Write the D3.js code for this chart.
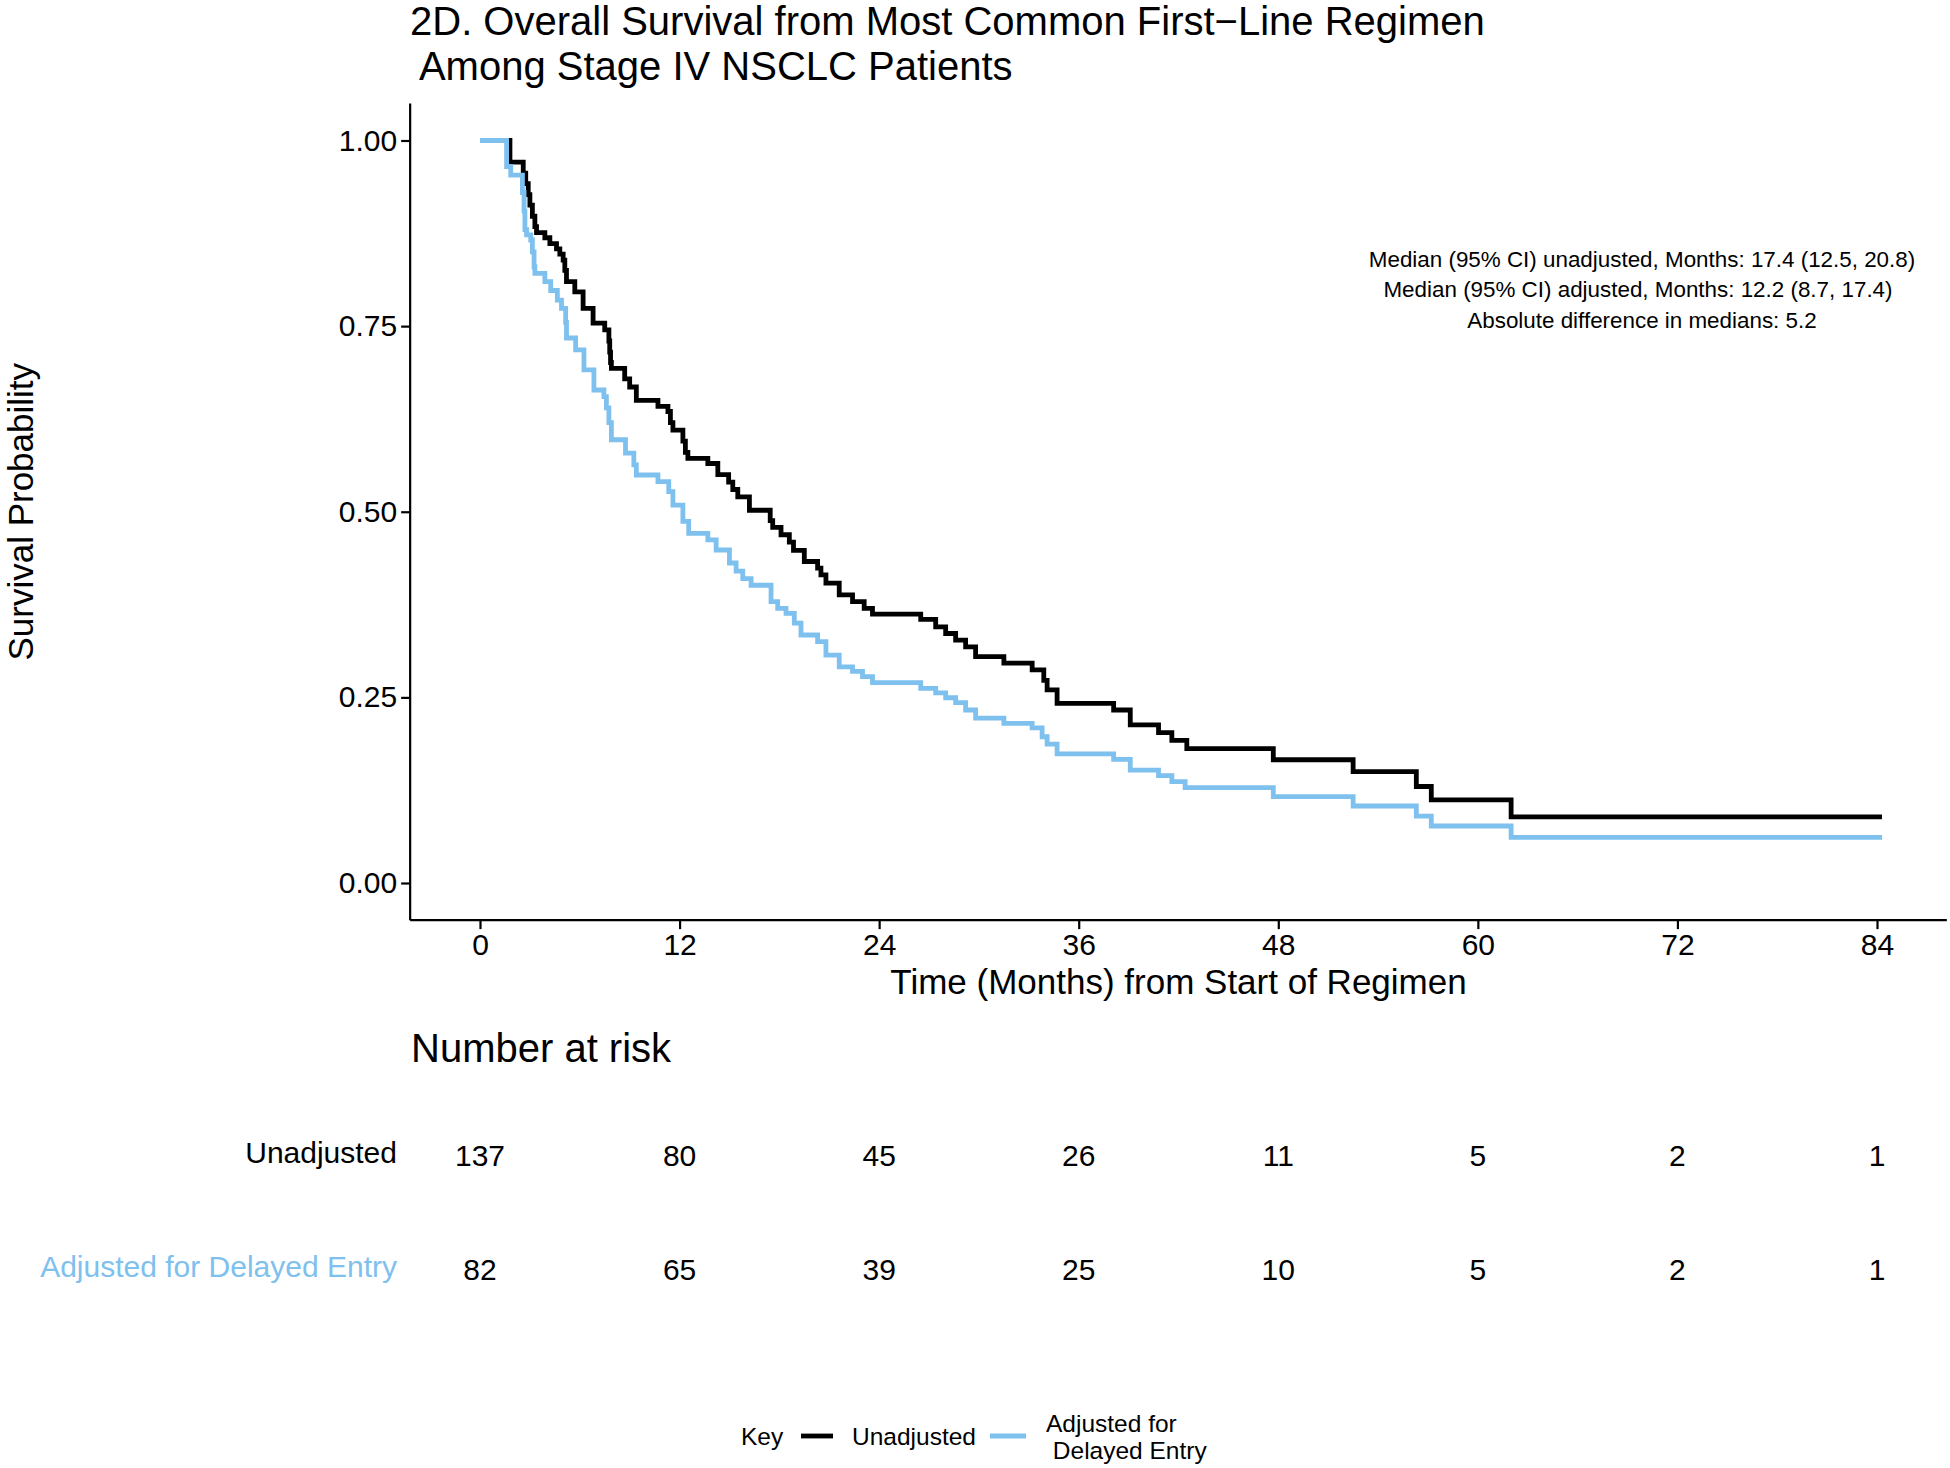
<!DOCTYPE html>
<html>
<head>
<meta charset="utf-8">
<script src="https://cdn.jsdelivr.net/npm/d3@7"></script>
<style>
  body { margin: 0; background: #fff; }
  svg { display: block; font-family: "Liberation Sans", Arial, Helvetica, sans-serif; }
  text { white-space: pre; }
</style>
</head>
<body>
<svg id="chart" width="1950" height="1468"></svg>
<script>
// step curves (months, survival probability after each step)
const unadjTime = [0, 1.8, 2.6, 2.75, 2.9, 3.0, 3.15, 3.3, 3.4, 3.9, 4.2, 4.6, 4.8, 5.0, 5.1, 5.2, 5.7, 6.2, 6.8,
  7.5, 7.75, 7.8, 7.85, 7.9, 8.7, 9.0, 9.4, 10.7, 11.3, 11.45, 11.6, 12.2, 12.35, 12.5, 13.7, 14.3, 14.95, 15.2,
  15.5, 16.2, 17.45, 17.6, 18.1, 18.6, 18.85, 19.5, 20.3, 20.5, 20.8, 21.6, 22.4, 23.1, 23.6, 26.5, 27.4, 28.0,
  28.6, 29.2, 29.8, 31.5, 33.2, 33.9, 34.1, 34.7, 38.1, 39.1, 40.8, 41.6, 42.5, 47.7, 52.5, 56.3, 57.2, 62.0];
const unadjSurv = [1, 0.971, 0.956, 0.942, 0.927, 0.913, 0.898, 0.884, 0.876, 0.869, 0.861, 0.854, 0.847, 0.839,
  0.825, 0.810, 0.796, 0.774, 0.754, 0.745, 0.730, 0.715, 0.701, 0.693, 0.679, 0.668, 0.650, 0.642, 0.635, 0.620,
  0.610, 0.595, 0.580, 0.572, 0.565, 0.550, 0.540, 0.530, 0.520, 0.502, 0.488, 0.479, 0.469, 0.459, 0.448, 0.433,
  0.424, 0.415, 0.404, 0.388, 0.379, 0.370, 0.362, 0.355, 0.345, 0.336, 0.327, 0.318, 0.305, 0.296, 0.287, 0.273,
  0.260, 0.242, 0.233, 0.213, 0.2025, 0.192, 0.181, 0.166, 0.150, 0.130, 0.112, 0.089];

const adjTime = [0, 1.6, 1.85, 2.55, 2.65, 2.7, 2.8, 3.05, 3.15, 3.25, 3.3, 3.9, 4.25, 4.65, 4.9, 5.15, 5.2, 5.75,
  6.25, 6.85, 7.45, 7.6, 7.75, 7.9, 8.75, 9.25, 9.4, 10.7, 11.35, 11.6, 12.2, 12.55, 13.7, 14.2, 15.0, 15.4, 15.8,
  16.3, 17.5, 17.9, 18.4, 18.9, 19.3, 20.3, 20.8, 21.6, 22.4, 23.0, 23.6, 26.5, 27.4, 28.0, 28.6, 29.2, 29.8, 31.5,
  33.2, 33.8, 34.1, 34.7, 38.1, 39.1, 40.8, 41.6, 42.4, 47.7, 52.5, 56.3, 57.2, 62.0];
const adjSurv = [1, 0.965, 0.9535, 0.93, 0.905, 0.88, 0.873, 0.866, 0.85, 0.83, 0.821, 0.81, 0.798, 0.785, 0.774,
  0.755, 0.734, 0.718, 0.691, 0.664, 0.655, 0.64, 0.62, 0.597, 0.579, 0.563, 0.5495, 0.5405, 0.527, 0.509, 0.487,
  0.471, 0.462, 0.4485, 0.431, 0.42, 0.41, 0.401, 0.379, 0.370, 0.363, 0.35, 0.334, 0.325, 0.307, 0.291, 0.285,
  0.278, 0.270, 0.262, 0.256, 0.2495, 0.243, 0.233, 0.222, 0.215, 0.209, 0.197, 0.187, 0.174, 0.1666, 0.152,
  0.1445, 0.1365, 0.1284, 0.1163, 0.1037, 0.090, 0.0768, 0.0615];

const lastTime = 84.3;

const xTicks = [0, 12, 24, 36, 48, 60, 72, 84];
const yTicks = [0, 0.25, 0.5, 0.75, 1];
const riskUnadj = [137, 80, 45, 26, 11, 5, 2, 1];
const riskAdj = [82, 65, 39, 25, 10, 5, 2, 1];

const groups = ["Unadjusted", "Adjusted for Delayed Entry"];
const colors = ["#000000", "#7EC0EE"];

const titleLines = ["2D. Overall Survival from Most Common First\u2212Line Regimen", " Among Stage IV NSCLC Patients"];
const noteLines = [
  "Median (95% CI) unadjusted, Months: 17.4 (12.5, 20.8)",
  "Median (95% CI) adjusted, Months: 12.2 (8.7, 17.4)",
  "Absolute difference in medians: 5.2"
];

const svg = d3.select("#chart");

const x = d3.scaleLinear().domain([0, 84]).range([480, 1877]);
const y = d3.scaleLinear().domain([0, 1]).range([883, 140.5]);

// title
svg.append("g").selectAll("text")
  .data(titleLines)
  .join("text")
  .attr("x", 410)
  .attr("y", (d, i) => 21 + i * 45)
  .attr("dy", "0.35em")
  .style("font-size", "40px")
  .text(d => d);

// axes
const xAxis = svg.append("g")
  .attr("transform", `translate(0,${y(-0.05)})`)
  .call(d3.axisBottom(x).tickValues(xTicks).tickSize(9).tickPadding(5).tickFormat(d3.format("d")));
xAxis.select(".domain").attr("d", `M${x(-4.2)},0H${x(88.2)}`);

const yAxis = svg.append("g")
  .attr("transform", `translate(${x(-4.2)},0)`)
  .call(d3.axisLeft(y).tickValues(yTicks).tickSize(9).tickPadding(4).tickFormat(d3.format(".2f")));
yAxis.select(".domain").attr("d", `M0,${y(1.05)}V${y(-0.05)}`);

[xAxis, yAxis].forEach(a => {
  a.select(".domain").attr("stroke", "#000").attr("stroke-width", 2.2);
  a.selectAll(".tick line").attr("stroke", "#000").attr("stroke-width", 2.2);
  a.selectAll(".tick text").attr("fill", "#000").style("font-size", "30px")
    .style("font-family", "'Liberation Sans', Arial, sans-serif");
});

svg.append("text")
  .attr("x", (x(-4.2) + x(88.2)) / 2)
  .attr("y", 982)
  .attr("dy", "0.35em")
  .attr("text-anchor", "middle")
  .style("font-size", "35px")
  .text("Time (Months) from Start of Regimen");

svg.append("text")
  .attr("transform", `translate(21,${(y(1.05) + y(-0.05)) / 2}) rotate(-90)`)
  .attr("dy", "0.35em")
  .attr("text-anchor", "middle")
  .style("font-size", "35px")
  .text("Survival Probability");

// survival curves
const line = d3.line()
  .x(d => x(d[0]))
  .y(d => y(d[1]))
  .curve(d3.curveStepAfter);

const curves = [
  [unadjTime, unadjSurv],
  [adjTime, adjSurv]
];

curves.forEach(([t, s], i) => {
  const pts = t.map((v, j) => [v, s[j]]);
  pts.push([lastTime, s[s.length - 1]]);
  svg.append("path")
    .datum(pts)
    .attr("fill", "none")
    .attr("stroke", colors[i])
    .attr("stroke-width", 4.8)
    .attr("d", line);
});

// median annotation
svg.append("g").selectAll("text")
  .data(noteLines)
  .join("text")
  .attr("x", (d, i) => i === 1 ? 1638 : 1642)
  .attr("y", (d, i) => 259 + i * 30.5)
  .attr("dy", "0.35em")
  .attr("text-anchor", "middle")
  .style("font-size", "22.4px")
  .text(d => d);

// number at risk table
svg.append("text")
  .attr("x", 411)
  .attr("y", 1048)
  .attr("dy", "0.35em")
  .style("font-size", "40px")
  .text("Number at risk");

const rowY = [1152, 1266];
[riskUnadj, riskAdj].forEach((row, i) => {
  svg.append("text")
    .attr("x", 397)
    .attr("y", rowY[i])
    .attr("dy", "0.35em")
    .attr("text-anchor", "end")
    .attr("fill", colors[i])
    .style("font-size", "30px")
    .text(groups[i]);
  svg.append("g").selectAll("text")
    .data(row)
    .join("text")
    .attr("x", (d, j) => x(xTicks[j]))
    .attr("y", rowY[i] + 3)
    .attr("dy", "0.35em")
    .attr("text-anchor", "middle")
    .style("font-size", "30px")
    .text(d => d);
});

// legend
const legend = svg.append("g").style("font-size", "24.5px");
legend.append("text").attr("x", 741).attr("y", 1436).attr("dy", "0.35em").text("Key");
legend.append("line").attr("x1", 801).attr("x2", 833).attr("y1", 1436).attr("y2", 1436)
  .attr("stroke", colors[0]).attr("stroke-width", 4.8);
legend.append("text").attr("x", 852).attr("y", 1436).attr("dy", "0.35em").text("Unadjusted");
legend.append("line").attr("x1", 990).attr("x2", 1026).attr("y1", 1436).attr("y2", 1436)
  .attr("stroke", colors[1]).attr("stroke-width", 4.8);
legend.append("text").attr("x", 1046).attr("y", 1423).attr("dy", "0.35em").text("Adjusted for");
legend.append("text").attr("x", 1046).attr("y", 1450).attr("dy", "0.35em").text(" Delayed Entry");
</script>
</body>
</html>
